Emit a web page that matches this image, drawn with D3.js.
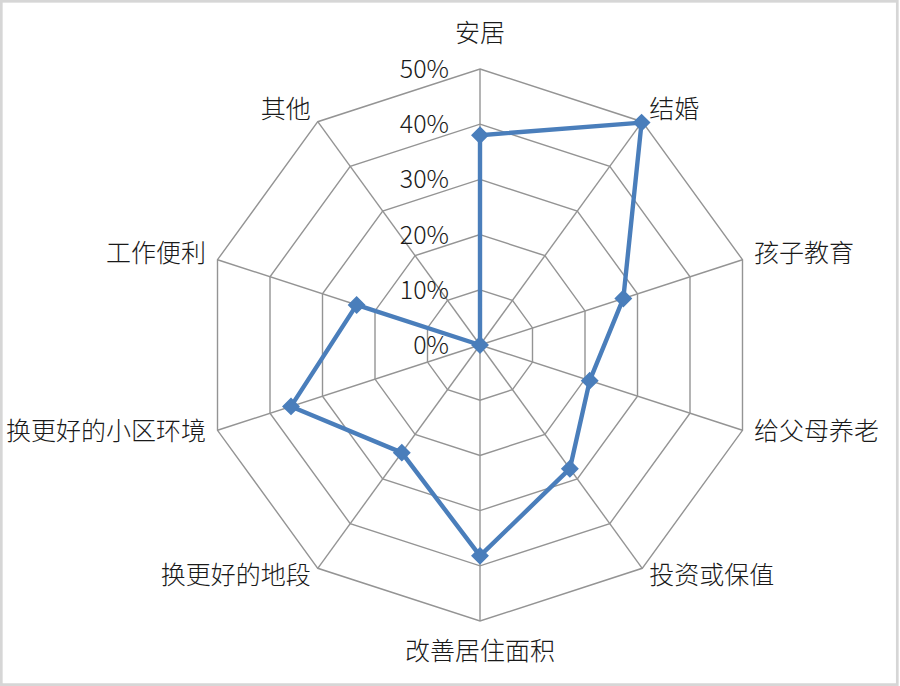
<!DOCTYPE html>
<html>
<head>
<meta charset="utf-8">
<script src="https://cdn.jsdelivr.net/npm/d3@7"></script>
<style>
  body { margin: 0; background: #fff; }
  svg { display: block; font-family: "Noto Sans CJK SC", "Noto Sans", sans-serif; }
</style>
</head>
<body>
<svg id="chart" width="900" height="686"></svg>
<script>
// ── DATA ─────────────────────────────────────────────────────────────────────
const categories = ['安居', '结婚', '孩子教育', '给父母养老', '投资或保值',
                    '改善居住面积', '换更好的地段', '换更好的小区环境', '工作便利', '其他'];
const values = [0.380, 0.498, 0.273, 0.209, 0.277, 0.382, 0.241, 0.360, 0.235, 0.0];
const tickValues = [0, 0.1, 0.2, 0.3, 0.4, 0.5];
const tickLabels = ['0%', '10%', '20%', '30%', '40%', '50%'];

// ── SETUP ────────────────────────────────────────────────────────────────────
const W = 900, H = 686;
const cx = 480, cy = 345, R = 276;
const lineColor = '#4a7ebb';
const gridColor = '#949494';

const svg = d3.select('#chart');

svg.append('rect')
  .attr('x', 1.3).attr('y', 1.3)
  .attr('width', W - 4).attr('height', H - 2.7)
  .attr('fill', '#fff')
  .attr('stroke', '#d6d6d6')
  .attr('stroke-width', 2.7);

const r = d3.scaleLinear().domain([0, 0.5]).range([0, R]);
const angle = d3.scaleLinear().domain([0, categories.length]).range([0, 2 * Math.PI]);

const g = svg.append('g').attr('transform', `translate(${cx},${cy})`);

// ── GRID ─────────────────────────────────────────────────────────────────────
const ring = d3.lineRadial()
  .angle((d, i) => angle(i))
  .radius(d => d)
  .curve(d3.curveLinearClosed);

g.append('g').attr('class', 'rings')
  .selectAll('path')
  .data(tickValues.slice(1))
  .join('path')
  .attr('d', t => ring(categories.map(() => r(t))))
  .attr('fill', 'none')
  .attr('stroke', gridColor)
  .attr('stroke-width', 1.4);

const pt = (i, rad) => [rad * Math.sin(angle(i)), -rad * Math.cos(angle(i))];

g.append('g').attr('class', 'spokes')
  .selectAll('line')
  .data(categories)
  .join('line')
  .attr('x1', 0).attr('y1', 0)
  .attr('x2', (d, i) => pt(i, r(0.5))[0])
  .attr('y2', (d, i) => pt(i, r(0.5))[1])
  .attr('stroke', gridColor)
  .attr('stroke-width', 1.4);

// ── TICK LABELS ──────────────────────────────────────────────────────────────
g.append('g').attr('class', 'ticks')
  .selectAll('text')
  .data(tickValues)
  .join('text')
  .attr('x', -31)
  .attr('y', t => -r(t))
  .attr('dy', '0.36em')
  .attr('text-anchor', 'end')
  .attr('font-size', 25)
  .attr('font-weight', 300)
  .attr('fill', '#1a1a1a')
  .text((t, i) => tickLabels[i]);

// ── CATEGORY LABELS ──────────────────────────────────────────────────────────
g.append('g').attr('class', 'cats')
  .selectAll('text')
  .data(categories)
  .join('text')
  .each(function(d, i) {
    const a = angle(i);
    const s = Math.sin(a), c = Math.cos(a);
    let [x, y] = pt(i, R + 12);
    let anchor = 'middle';
    if (s > 0.1) anchor = 'start';
    else if (s < -0.1) anchor = 'end';
    y -= 3;
    if (Math.abs(s) < 0.1) y -= c * 21;
    d3.select(this)
      .attr('x', x).attr('y', y)
      .attr('dy', '0.36em')
      .attr('text-anchor', anchor);
  })
  .attr('font-size', 25)
  .attr('font-weight', 300)
  .attr('fill', '#1a1a1a')
  .text(d => d);

// ── SERIES ───────────────────────────────────────────────────────────────────
const series = d3.lineRadial()
  .angle((d, i) => angle(i))
  .radius(d => r(d))
  .curve(d3.curveLinearClosed);

g.append('path')
  .attr('d', series(values))
  .attr('fill', 'none')
  .attr('stroke', lineColor)
  .attr('stroke-width', 4.4)
  .attr('stroke-linejoin', 'round');

const diamond = d3.symbol().type(d3.symbolSquare).size(125);

g.append('g').attr('class', 'markers')
  .selectAll('path')
  .data(values)
  .join('path')
  .attr('d', diamond)
  .attr('transform', (d, i) => {
    const [x, y] = pt(i, r(d));
    return `translate(${x},${y}) rotate(45)`;
  })
  .attr('fill', lineColor)
  .attr('stroke', lineColor)
  .attr('stroke-width', 1.5);
</script>
</body>
</html>
